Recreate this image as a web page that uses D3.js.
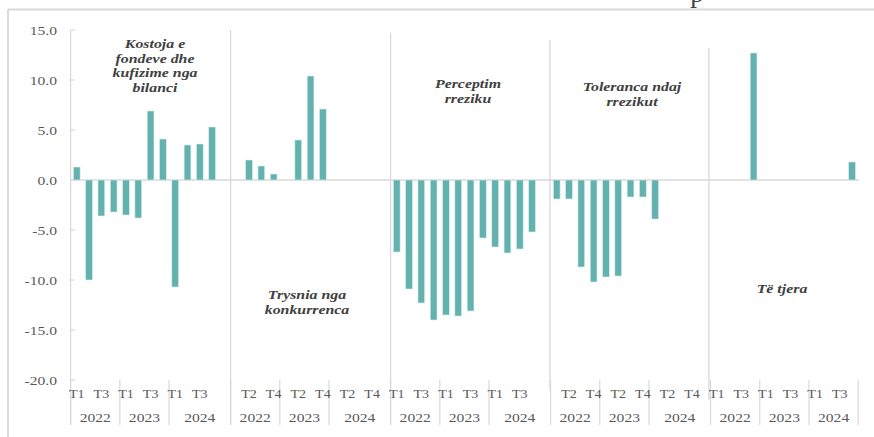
<!DOCTYPE html>
<html>
<head>
<meta charset="utf-8">
<script src="https://cdn.jsdelivr.net/npm/d3@7/dist/d3.min.js"></script>
<style>
  html, body { margin: 0; padding: 0; background: #ffffff; }
  svg { display: block; }
</style>
</head>
<body>
<svg id="chart" width="874" height="437"></svg>
<script>
// ---------------- DATA ----------------
const groupNames = ["Kostoja e fondeve dhe kufizime nga bilanci", "Trysnia nga konkurrenca", "Perceptim rreziku", "Toleranca ndaj rrezikut", "Të tjera"];
const groupLabelLines = [
  ["Kostoja e", "fondeve dhe", "kufizime nga", "bilanci"],
  ["Trysnia nga", "konkurrenca"],
  ["Perceptim", "rreziku"],
  ["Toleranca ndaj", "rrezikut"],
  ["Të tjera"]
];
const years = ["2022", "2023", "2024"];
const quarters = ["T1", "T2", "T3", "T4"];
// values per group: 2022 T1..T4, 2023 T1..T4, 2024 T1..T4
const kostoja   = [1.3, -10.0, -3.6, -3.2, -3.5, -3.8, 6.9, 4.1, -10.7, 3.5, 3.6, 5.3];
const trysnia   = [null, 2.0, 1.4, 0.6, null, 4.0, 10.4, 7.1, null, null, null, null];
const perceptim = [-7.2, -10.9, -12.3, -14.0, -13.5, -13.6, -13.1, -5.8, -6.7, -7.3, -6.9, -5.2];
const toleranca = [-1.9, -1.9, -8.7, -10.2, -9.7, -9.6, -1.7, -1.7, -3.9, null, null, null];
const tjera     = [null, null, null, 12.7, null, null, null, null, null, null, null, 1.8];
const yTicks = [15, 10, 5, 0, -5, -10, -15, -20];
const titleFragment = "p";

const seriesByGroup = [kostoja, trysnia, perceptim, toleranca, tjera];

// ---------------- BUILD CATEGORIES ----------------
const cats = [];
groupNames.forEach((g, gi) => {
  years.forEach((y, yi) => {
    quarters.forEach((q, qi) => {
      cats.push({ key: gi + "|" + y + "|" + q, group: gi, year: y, q: q, value: seriesByGroup[gi][yi * 4 + qi], gap: false });
    });
  });
  if (gi < groupNames.length - 1) cats.push({ key: gi + "|gap", group: gi, year: years[years.length - 1], q: "", value: null, gap: true });
});

// ---------------- LAYOUT ----------------
const svg = d3.select("#chart");
const X0 = 70.6, X1 = 858.2, Y0 = 30, Y1 = 380;
const x = d3.scaleBand().domain(cats.map(d => d.key)).range([X0, X1]).padding(0);
const y = d3.scaleLinear().domain([-20, 15]).range([Y1, Y0]);
const step = x.step();
const barW = step * 0.55;
const grid = "#d9d9d9";
const txt = "#595959";
const FONT = "'Liberation Serif', 'Times New Roman', serif";

// outer frame
svg.append("line").attr("x1", 8).attr("x2", 874).attr("y1", 9.5).attr("y2", 9.5).attr("stroke", grid).attr("stroke-width", 2);
svg.append("line").attr("x1", 8).attr("x2", 8).attr("y1", 9.5).attr("y2", 437).attr("stroke", grid).attr("stroke-width", 2);

// cut title fragment
svg.append("text").attr("x", 697).attr("y", 2).attr("text-anchor", "middle")
  .attr("font-family", FONT).attr("font-size", 27).attr("fill", "#404040").text(titleFragment);

// y axis line
svg.append("line").attr("x1", X0).attr("x2", X0).attr("y1", Y0).attr("y2", 425).attr("stroke", grid).attr("stroke-width", 1.3);
// y ticks and labels
yTicks.forEach(t => {
  svg.append("line").attr("x1", X0).attr("x2", X0 + 4.5).attr("y1", y(t)).attr("y2", y(t)).attr("stroke", grid).attr("stroke-width", 1.2);
  svg.append("text")
    .attr("transform", `translate(57,${y(t)}) scale(1.2,1)`)
    .attr("text-anchor", "end").attr("dominant-baseline", "central")
    .attr("font-family", FONT).attr("font-size", 13).attr("fill", txt)
    .text(d3.format(".1f")(t).replace("−", "-"));
});

// zero line
svg.append("line").attr("x1", X0).attr("x2", X1 + 1).attr("y1", y(0)).attr("y2", y(0)).attr("stroke", grid).attr("stroke-width", 1.3);

// group separators (drawn lines)
const sepExtents = [[30, 425], [33, 425], [40, 390], [48, 400]];
const sepShift = [0, 0, -0.6, -1.6];
for (let gi = 1; gi < groupNames.length; gi++) {
  const first = cats.find(c => c.group === gi);
  const sx = x(first.key) + sepShift[gi - 1];
  svg.append("line").attr("x1", sx).attr("x2", sx).attr("y1", sepExtents[gi - 1][0]).attr("y2", sepExtents[gi - 1][1])
    .attr("stroke", grid).attr("stroke-width", 1.3);
}

// category axis: year separator ticks
const yearStarts = [];
groupNames.forEach((g, gi) => {
  years.forEach(yr => {
    const c = cats.find(d => d.group === gi && d.year === yr && !d.gap);
    yearStarts.push(x(c.key));
  });
});
yearStarts.push(X1);
yearStarts.forEach(px => {
  svg.append("line").attr("x1", px).attr("x2", px).attr("y1", 380).attr("y2", 425).attr("stroke", grid).attr("stroke-width", 1.2);
});

// quarter labels (every second category)
cats.forEach((c, i) => {
  if (i % 2 !== 0 || c.gap) return;
  svg.append("text")
    .attr("transform", `translate(${x(c.key) + step / 2},394) scale(1.08,1)`)
    .attr("text-anchor", "middle").attr("dominant-baseline", "central")
    .attr("font-family", FONT).attr("font-size", 13).attr("fill", txt).text(c.q);
});

// year labels
groupNames.forEach((g, gi) => {
  years.forEach(yr => {
    const cs = cats.filter(d => d.group === gi && d.year === yr);
    const a = x(cs[0].key), b = x(cs[cs.length - 1].key) + step;
    svg.append("text")
      .attr("transform", `translate(${(a + b) / 2},417) scale(1.2,1)`)
      .attr("text-anchor", "middle").attr("dominant-baseline", "central")
      .attr("font-family", FONT).attr("font-size", 13).attr("fill", txt).text(yr);
  });
});

// bars
svg.append("g").selectAll("rect")
  .data(cats.filter(c => c.value !== null && c.value !== undefined))
  .join("rect")
  .attr("x", d => x(d.key) + (step - barW) / 2)
  .attr("width", barW)
  .attr("y", d => y(Math.max(0, d.value)))
  .attr("height", d => Math.abs(y(d.value) - y(0)))
  .attr("fill", "#63b2af")
  .attr("stroke", "#d8eeec").attr("stroke-width", 0.6);

// group annotation labels
const labelPos = [[155, 43.5], [307, 295], [468, 83.5], [632, 86.5], [782, 289]];
const lineH = 14.6;
groupLabelLines.forEach((lines, gi) => {
  lines.forEach((ln, li) => {
    svg.append("text")
      .attr("transform", `translate(${labelPos[gi][0]},${labelPos[gi][1] + li * lineH}) scale(1.22,1)`)
      .attr("text-anchor", "middle").attr("dominant-baseline", "central")
      .attr("font-family", FONT).attr("font-size", 13).attr("font-weight", "bold").attr("font-style", "italic")
      .attr("fill", "#404040").text(ln);
  });
});
</script>
</body>
</html>
